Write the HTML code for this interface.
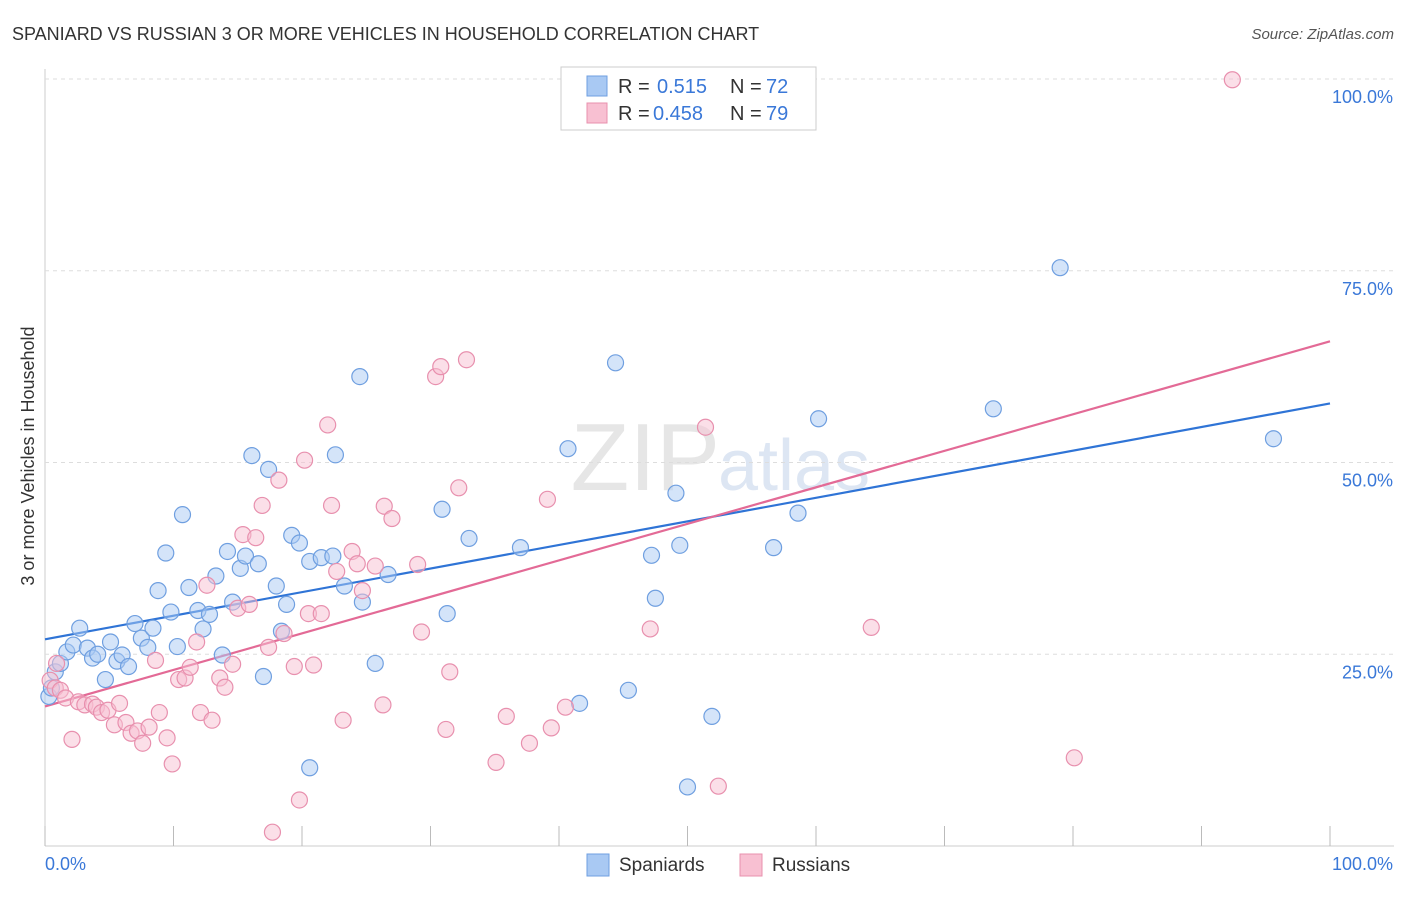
<!DOCTYPE html>
<html><head><meta charset="utf-8"><style>
body{margin:0;background:#fff;font-family:"Liberation Sans",sans-serif;}
svg text{font-family:"Liberation Sans",sans-serif;}
</style></head><body>
<svg id="chart" width="1406" height="892" viewBox="0 0 1406 892">
<text x="12" y="40" font-size="18" fill="#333">SPANIARD VS RUSSIAN 3 OR MORE VEHICLES IN HOUSEHOLD CORRELATION CHART</text>
<text x="1394" y="39" font-size="15" fill="#555" font-style="italic" text-anchor="end">Source: ZipAtlas.com</text>
<text x="720" y="490" font-size="96" fill="#e6e6e6" text-anchor="end" font-family="Liberation Serif">ZIP</text>
<text x="718" y="490" font-size="72" fill="#dde6f3">atlas</text>
<text transform="translate(34,456) rotate(-90)" font-size="18" fill="#333" text-anchor="middle">3 or more Vehicles in Household</text>
<g id="grid"></g><g id="ticks"></g><g id="lines"></g><g id="pts"></g>
<g>
<rect x="561" y="67" width="255" height="63" fill="#fff" stroke="#ccc"/>
<rect x="587" y="76" width="20" height="20" fill="#a9c9f3" stroke="#6f9fe0"/>
<text x="618" y="93" font-size="20" fill="#333">R =</text>
<text x="657" y="93" font-size="20" fill="#3a78d8">0.515</text>
<text x="730" y="93" font-size="20" fill="#333">N =</text>
<text x="766" y="93" font-size="20" fill="#3a78d8">72</text>
<rect x="587" y="103" width="20" height="20" fill="#f8c0d2" stroke="#e890ae"/>
<text x="618" y="120" font-size="20" fill="#333">R =</text>
<text x="653" y="120" font-size="20" fill="#3a78d8">0.458</text>
<text x="730" y="120" font-size="20" fill="#333">N =</text>
<text x="766" y="120" font-size="20" fill="#3a78d8">79</text>
</g>
<g>
<rect x="587" y="854" width="22" height="22" fill="#a9c9f3" stroke="#6f9fe0"/>
<text x="619" y="871" font-size="19" fill="#333">Spaniards</text>
<rect x="740" y="854" width="22" height="22" fill="#f8c0d2" stroke="#e890ae"/>
<text x="772" y="871" font-size="19" fill="#333">Russians</text>
</g>
</svg>
<script>
const blueX=[0.3,0.5,0.8,1.2,1.7,2.2,2.7,3.3,3.7,4.1,4.7,5.1,5.6,6.0,6.5,7.0,7.5,8.0,8.4,8.8,9.4,9.8,10.3,10.7,11.2,11.9,12.3,12.8,13.3,13.8,14.2,14.6,15.2,15.6,16.1,16.6,17.0,17.4,18.0,18.4,18.8,19.2,19.8,20.6,20.6,21.5,22.4,22.6,23.3,24.5,24.7,25.7,26.7,30.9,31.3,33.0,37.0,40.7,41.6,44.4,45.4,47.2,47.5,49.1,49.4,50.0,51.9,56.7,58.6,60.2,73.8,79.0,95.6];
const blueY=[19.5,20.6,22.7,23.8,25.3,26.2,28.4,25.8,24.5,25.0,21.7,26.6,24.1,24.9,23.4,29.0,27.1,25.9,28.4,33.3,38.2,30.5,26.0,43.2,33.7,30.7,28.3,30.2,35.2,24.9,38.4,31.8,36.2,37.8,50.9,36.8,22.1,49.1,33.9,28.0,31.5,40.5,39.5,37.1,10.2,37.6,37.8,51.0,33.9,61.2,31.8,23.8,35.4,43.9,30.3,40.1,38.9,51.8,18.6,63.0,20.3,37.9,32.3,46.0,39.2,7.7,16.9,38.9,43.4,55.7,57.0,75.4,53.1];
const pinkX=[0.4,0.8,0.9,1.2,1.6,2.1,2.6,3.1,3.7,4.0,4.4,4.9,5.4,5.8,6.3,6.7,7.2,7.6,8.1,8.6,8.9,9.5,9.9,10.4,10.9,11.3,11.8,12.1,12.6,13.0,13.6,14.0,14.6,15.0,15.4,15.9,16.4,16.9,17.4,17.7,18.2,18.6,19.4,19.8,20.2,20.5,20.9,21.5,22.0,22.3,22.7,23.2,23.9,24.3,24.7,25.7,26.3,26.4,27.0,29.0,29.3,30.4,30.8,31.2,31.5,32.2,32.8,35.1,35.9,37.7,39.1,39.4,40.5,47.1,51.4,52.4,64.3,80.1,92.4];
const pinkY=[21.6,20.6,23.8,20.3,19.3,13.9,18.8,18.4,18.5,18.1,17.4,17.7,15.8,18.6,16.1,14.7,15.0,13.4,15.5,24.2,17.4,14.1,10.7,21.7,21.9,23.3,26.6,17.4,34.0,16.4,21.9,20.7,23.7,31.0,40.6,31.5,40.2,44.4,25.9,1.8,47.7,27.7,23.4,6.0,50.3,30.3,23.6,30.3,54.9,44.4,35.8,16.4,38.4,36.8,33.3,36.5,18.4,44.3,42.7,36.7,27.9,61.2,62.5,15.2,22.7,46.7,63.4,10.9,16.9,13.4,45.2,15.4,18.1,28.3,54.6,7.8,28.5,11.5,99.9];
const blueLine=[26.95,57.7];
const pinkLine=[18.2,65.8];
const yTicks=[25,50,75,100];
const yTickLabels=["25.0%","50.0%","75.0%","100.0%"];
const xTicks=[0,10,20,30,40,50,60,70,80,90,100];

const NS="http://www.w3.org/2000/svg";
const X0=45,X1=1330,Y0=846,Y1=79;
const sx=v=>X0+(X1-X0)*v/100, sy=v=>Y0-(Y0-Y1)*v/100;
function mk(tag,attrs,parent){const e=document.createElementNS(NS,tag);for(const k in attrs)e.setAttribute(k,attrs[k]);document.getElementById(parent).appendChild(e);return e;}
let e=mk('line',{x1:X0,y1:Y1-10,x2:X0,y2:Y0,stroke:'#ccc'},'grid');


e=mk('line',{x1:X0,y1:Y0,x2:1394,y2:Y0,stroke:'#ccc'},'grid');


yTicks.forEach((t,i)=>{
 let g=mk('line',{x1:X0,x2:1394,y1:sy(t),y2:sy(t),stroke:'#ddd','stroke-dasharray':'4,4'},'grid');
 
 
 let l=mk('text',{x:1393,y:sy(t)+24,'font-size':18,fill:'#3a78d8','text-anchor':'end'},'ticks');
 l.textContent=yTickLabels[i];
 
 
});
xTicks.forEach(t=>{
 let m=mk('line',{x1:sx(t),x2:sx(t),y1:Y0-20,y2:Y0,stroke:'#bbb'},'ticks');
 
 
});
e=mk('text',{x:45,y:870,'font-size':18,fill:'#3a78d8'},'ticks');e.textContent='0.0%';


e=mk('text',{x:1393,y:870,'font-size':18,fill:'#3a78d8','text-anchor':'end'},'ticks');e.textContent='100.0%';


function pts(xs,ys,fill,stroke,name){xs.forEach((x,i)=>{
 let c=mk('circle',{cx:sx(x),cy:sy(ys[i]),r:8,fill:fill,'fill-opacity':0.5,stroke:stroke,'stroke-width':1.2},'pts');
 
 
});}
pts(blueX,blueY,'#a9c9f3','#6f9fe0','point-spaniards');
pts(pinkX,pinkY,'#f8c0d2','#e890ae','point-russians');
e=mk('line',{x1:sx(0),y1:sy(blueLine[0]),x2:sx(100),y2:sy(blueLine[1]),stroke:'#2f74d6','stroke-width':2.2},'lines');


e=mk('line',{x1:sx(0),y1:sy(pinkLine[0]),x2:sx(100),y2:sy(pinkLine[1]),stroke:'#e36a96','stroke-width':2.2},'lines');


</script>
</body></html>
